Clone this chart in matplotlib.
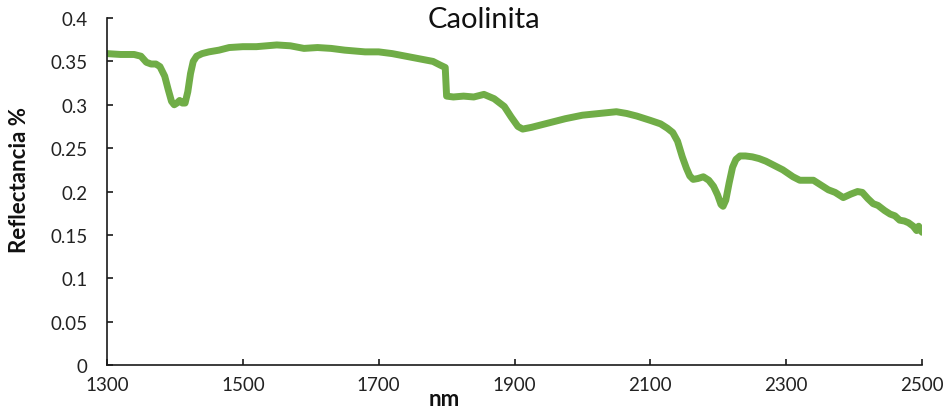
import matplotlib
matplotlib.use('Agg')
import matplotlib.pyplot as plt
from matplotlib.ticker import FuncFormatter

# Spectrum
nm = [1300, 1320, 1340, 1350, 1358, 1365, 1372, 1378, 1385, 1390, 1395, 1399,
      1403, 1407, 1411, 1415, 1419, 1423, 1427, 1432, 1440, 1450, 1465, 1480,
      1500, 1520, 1550, 1570, 1590, 1610, 1630, 1650, 1680, 1700, 1720, 1740,
      1760, 1780, 1790, 1798, 1800, 1810, 1825, 1840, 1855, 1870, 1885, 1895,
      1905, 1912, 1925, 1950, 1975, 2000, 2025, 2050, 2065, 2080, 2100, 2115,
      2125, 2133, 2140, 2147, 2153, 2158, 2163, 2170, 2178, 2186, 2193, 2199,
      2204, 2207, 2211, 2216, 2221, 2226, 2232, 2240, 2250, 2260, 2270, 2280,
      2295, 2310, 2320, 2330, 2340, 2350, 2362, 2372, 2384, 2395, 2405, 2412,
      2420, 2428, 2435, 2445, 2453, 2460, 2467, 2474, 2480, 2487, 2492, 2495,
      2500]
reflectancia = [0.359, 0.358, 0.358, 0.356, 0.349, 0.347, 0.347, 0.344, 0.333,
                0.318, 0.304, 0.300, 0.302, 0.305, 0.302, 0.302, 0.315, 0.336,
                0.350, 0.356, 0.359, 0.361, 0.363, 0.366, 0.367, 0.367, 0.369,
                0.368, 0.365, 0.366, 0.365, 0.363, 0.361, 0.361, 0.359, 0.356,
                0.353, 0.350, 0.346, 0.343, 0.310, 0.309, 0.310, 0.309, 0.312,
                0.307, 0.298, 0.286, 0.275, 0.272, 0.274, 0.279, 0.284, 0.288,
                0.290, 0.292, 0.290, 0.287, 0.282, 0.278, 0.273, 0.268, 0.258,
                0.240, 0.227, 0.218, 0.214, 0.215, 0.217, 0.213, 0.206, 0.196,
                0.185, 0.183, 0.190, 0.210, 0.228, 0.237, 0.241, 0.241, 0.240,
                0.238, 0.235, 0.231, 0.225, 0.217, 0.213, 0.213, 0.213, 0.208,
                0.202, 0.199, 0.193, 0.197, 0.200, 0.199, 0.192, 0.186, 0.184,
                0.178, 0.174, 0.172, 0.167, 0.166, 0.164, 0.160, 0.155, 0.160,
                0.153]

xticks = [1300, 1500, 1700, 1900, 2100, 2300, 2500]
yticks = [0, 0.05, 0.1, 0.15, 0.2, 0.25, 0.3, 0.35, 0.4]

plt.rcParams['font.family'] = ['Lato', 'DejaVu Sans']

fig = plt.figure(figsize=(9.5, 4.14), dpi=100)
ax = fig.add_axes([0.1126, 0.1159, 0.858, 0.8381])

ax.plot(nm, reflectancia, color='#70AD47', lw=5, solid_capstyle='round',
        solid_joinstyle='round')

ax.set_xlim(1300, 2500)
ax.set_ylim(0, 0.4)
ax.set_xticks(xticks)
ax.set_yticks(yticks)
ax.yaxis.set_major_formatter(FuncFormatter(lambda v, p: ('%g' % v)))

for s in ['top', 'right']:
    ax.spines[s].set_visible(False)
for s in ['left', 'bottom']:
    ax.spines[s].set_linewidth(1.2)
    ax.spines[s].set_color('#1a1a1a')

ax.tick_params(axis='both', direction='in', length=4, width=1.2,
               colors='#1a1a1a', labelsize=13.5, labelcolor='#222222')
ax.tick_params(axis='y', pad=14)
ax.tick_params(axis='x', pad=8)

fig.text(484 / 950, 1 - 28 / 414, 'Caolinita', ha='center', va='baseline',
         fontsize=21, color='#111111')
fig.text(444 / 950, 1 - 400 / 414, 'nm', ha='center', va='center',
         fontsize=16, fontweight='bold', color='#111111')
fig.text(20 / 950, 1 - 180 / 414, 'Reflectancia %', ha='center', va='center',
         rotation=90, fontsize=16, fontweight='bold', color='#111111')

fig.savefig('out.png', dpi=100)
